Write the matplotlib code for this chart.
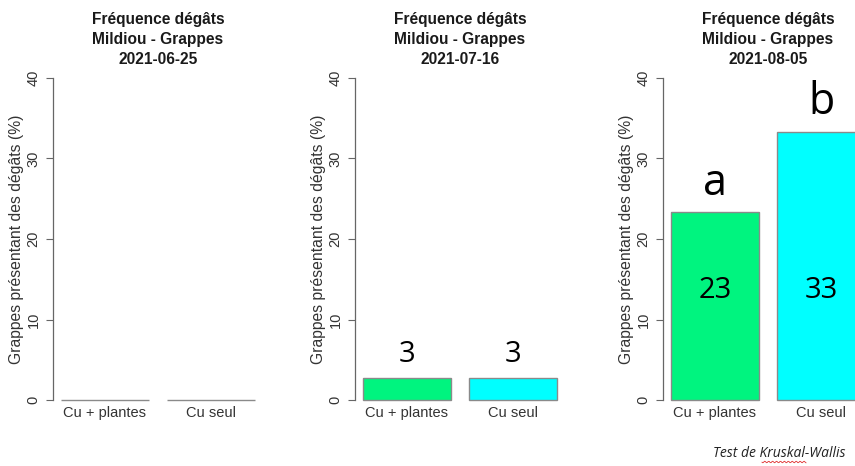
import numpy as np
import matplotlib.pyplot as plt
from matplotlib.lines import Line2D

# data
dates = ["2021-06-25", "2021-07-16", "2021-08-05"]
treatments = ["Cu + plantes", "Cu seul"]
values = [[0.0, 0.0], [2.7, 2.7], [23.3, 33.3]]
value_labels = [["", ""], ["3", "3"], ["23", "33"]]
letters = [["", ""], ["", ""], ["a", "b"]]
colors = ["#00F47F", "#00FFFF"]

W, H = 855, 466
fig = plt.figure(figsize=(W / 100, H / 100), dpi=100)

panel_left = [53, 355, 663]
panel_w = 210
y0_px, y40_px = 400, 78

arial = "Liberation Sans"
calib = "Open Sans"

centers = np.array([0.7, 1.9])

for k, date in enumerate(dates):
    ax = fig.add_axes([panel_left[k] / W, 1 - y0_px / H,
                       panel_w / W, (y0_px - y40_px) / H])
    vals = values[k]
    ax.bar(centers, vals, width=1.0, color=colors, edgecolor="#8a8a8a",
           linewidth=1.0, clip_on=False)
    ax.set_xlim(0.112, 2.488)
    ax.set_ylim(0, 40)

    for s in ["top", "right", "bottom"]:
        ax.spines[s].set_visible(False)
    ax.spines["left"].set_bounds(0, 40)
    ax.spines["left"].set_color("#666666")
    ax.spines["left"].set_linewidth(0.9)

    ax.set_yticks([0, 10, 20, 30, 40])
    ax.set_yticklabels(["0", "10", "20", "30", "40"], rotation=90,
                       va="center", fontsize=10.5, family=arial, color="#333333")
    ax.tick_params(axis="y", length=5, color="#666666", pad=4)
    ax.set_xticks(centers)
    ax.set_xticklabels(treatments, fontsize=10.5, family=arial, color="#333333")
    ax.tick_params(axis="x", length=0, pad=4)

    ax.set_ylabel("Grappes présentant des dégâts (%)", fontsize=11.3,
                  family=arial, color="#333333", labelpad=2)

    ax.set_title(f"Fréquence dégâts\nMildiou - Grappes\n{date}",
                 fontsize=11.2, fontweight="bold", family=arial,
                 linespacing=1.42, pad=10, color="#1a1a1a")

    for i, v in enumerate(vals):
        lab = value_labels[k][i]
        if lab:
            if v > 10:
                ax.text(centers[i], 13.6, lab, ha="center", va="center",
                        fontsize=21, family=calib, color="black")
            else:
                ax.text(centers[i], v + 2.0, lab, ha="center", va="baseline",
                        fontsize=21, family=calib, color="black")
        let = letters[k][i]
        if let:
            ax.text(centers[i], v + 2.2, let, ha="center", va="baseline",
                    fontsize=31, family=calib, color="black", clip_on=False)

fig.text(0.8335, 1 - 457 / H, "Test de Kruskal-Wallis", ha="left",
         va="baseline", fontsize=10, family=calib, style="italic", color="#222222")
xs = np.linspace(762, 806, 50)
fig.add_artist(Line2D(xs / W, 1 - (462 + 0.8 * np.sin(xs * 1.6)) / H,
                      color="#e03030", linewidth=0.6))

fig.savefig("out.png", dpi=100)
